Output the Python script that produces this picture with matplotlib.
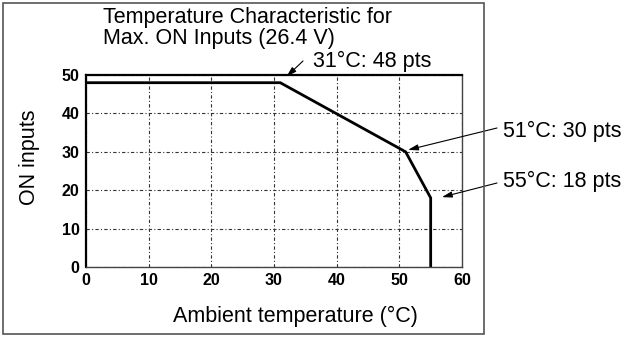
import matplotlib.pyplot as plt
from matplotlib.patches import Rectangle

plt.rcParams['font.family'] = ['Liberation Sans', 'DejaVu Sans']

# derating curve
temps = [0, 31, 51, 55, 55]
on_inputs = [48, 48, 30, 18, 0]

x_ticks = [0, 10, 20, 30, 40, 50, 60]
y_ticks = [0, 10, 20, 30, 40, 50]

# callouts: label and the point it refers to
notes = ['31°C: 48 pts', '51°C: 30 pts', '55°C: 18 pts']
note_pts = [(31, 48), (51, 30), (55, 18)]

fig = plt.figure(figsize=(6.24, 3.37), dpi=100)
ax = fig.add_axes([0.1378, 0.2077, 0.6026, 0.5697])

ax.plot(temps, on_inputs, color='black', lw=2, solid_joinstyle='miter')

ax.set_xlim(0, 60)
ax.set_ylim(0, 50)
ax.set_xticks(x_ticks)
ax.set_yticks(y_ticks)
ax.tick_params(length=0, labelsize=11.5, pad=4.5)
for lab in ax.get_xticklabels() + ax.get_yticklabels():
    lab.set_fontweight('bold')
ax.grid(True, color='#333333', lw=0.8, linestyle=(0, (3, 2, 1, 2)))
for side in ['left', 'top']:
    ax.spines[side].set_linewidth(1.6)
for side in ['right', 'bottom']:
    ax.spines[side].set_linewidth(1.0)
    ax.spines[side].set_color('#444444')

# outer frame
fig.patches.append(Rectangle((3 / 624, 3 / 337), 481 / 624, 331 / 337,
                             transform=fig.transFigure, fill=False,
                             edgecolor='#555555', lw=1.2))

fig.text(0.165, 0.978, 'Temperature Characteristic for\nMax. ON Inputs (26.4 V)',
         fontsize=15.5, ha='left', va='top', linespacing=0.95)
fig.text(0.047, 0.533, 'ON inputs', rotation=90, fontsize=15.5,
         ha='center', va='center')
fig.text(0.474, 0.0445, 'Ambient temperature (°C)', fontsize=15.5,
         ha='center', va='baseline')

text_pos = [(0.502, 0.801), (0.806, 0.593), (0.806, 0.445)]
tails = [(303, 276), (497, 209), (497, 154)]
tip_offsets = [(1.0, 1.6), (0.4, 0.5), (1.8, 0.2)]
for label, (px, py), (tx, ty), tail, (dx, dy) in zip(notes, note_pts, text_pos, tails, tip_offsets):
    fig.text(tx, ty, label, fontsize=15.5, ha='left', va='baseline')
    ax.annotate('', xy=(px + dx, py + dy), xycoords='data',
                xytext=tail, textcoords='figure pixels',
                arrowprops=dict(arrowstyle='-|>,head_length=0.6,head_width=0.18',
                                color='black', lw=0.8, shrinkA=0, shrinkB=0),
                annotation_clip=False)

fig.savefig('out.png', dpi=100)
